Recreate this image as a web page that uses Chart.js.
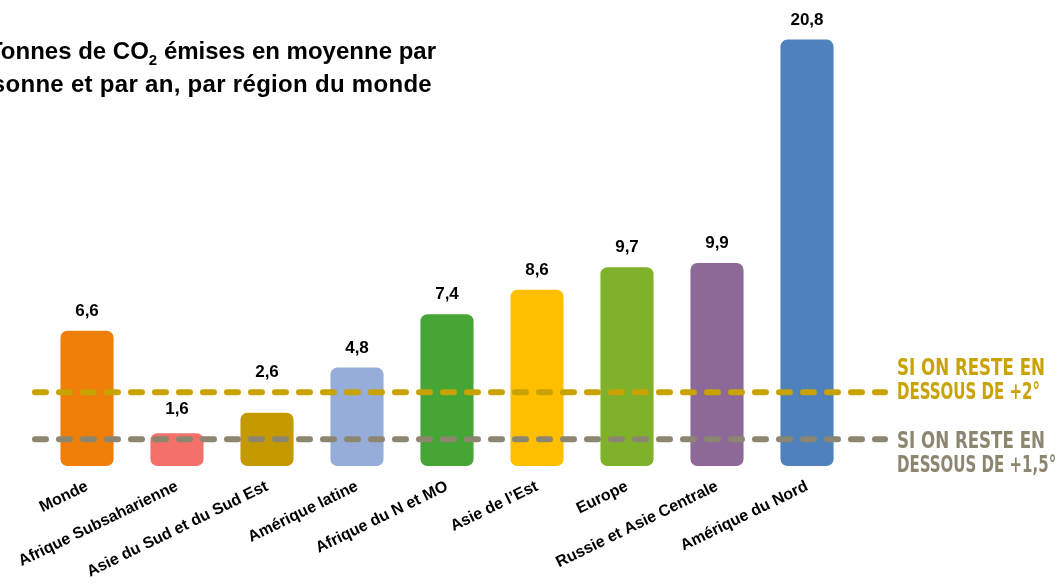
<!DOCTYPE html>
<html lang="fr">
<head>
<meta charset="utf-8">
<script src="https://cdn.jsdelivr.net/npm/chart.js@4.4.1/dist/chart.umd.min.js"></script>
<style>
  html, body { margin: 0; padding: 0; background: #fff; }
  #wrap { width: 1064px; height: 584px; position: relative; }
</style>
</head>
<body>
<div id="wrap"><canvas id="co2Chart"></canvas></div>
<script>
// Données
const regions = [
  'Monde',
  'Afrique Subsaharienne',
  'Asie du Sud et du Sud Est',
  'Amérique latine',
  'Afrique du N et MO',
  'Asie de l\u2019Est',
  'Europe',
  'Russie et Asie Centrale',
  'Amérique du Nord'
];
const emissions = [6.6, 1.6, 2.6, 4.8, 7.4, 8.6, 9.7, 9.9, 20.8];
const barColors = [
  '#F07F09', '#F4706A', '#C49A00', '#95ADD8', '#45A535',
  '#FDBF00', '#80B12B', '#8D6998', '#4F81BD'
];

// seuils (lignes pointillées)
const thresholdValues = [3.6, 1.3];
const thresholdLabels = [
  ['SI ON RESTE EN', 'DESSOUS DE +2°'],
  ['SI ON RESTE EN', 'DESSOUS DE +1,5°']
];
const thresholdColors = ['#C9A203', '#8C8670'];

// réglages de mise en page (pas des données)
const thresholdTextOffsets = [-17, 9];
const valueLabelLift = [0, 4, 21, 0, 0, 0, 0, 0, 0];

const titleLine1 = ['Tonnes de CO', '2', ' émises en moyenne par'];
const titleLine2 = 'personne et par an, par région du monde';

const fmt = v => v.toFixed(1).replace('.', ',');

const overlayPlugin = {
  id: 'overlay',
  afterDatasetsDraw(chart) {
    const ctx = chart.ctx;
    const y = chart.scales.y;

    // valeurs au-dessus des barres
    ctx.save();
    ctx.font = 'bold 17px "Liberation Sans", Arial, sans-serif';
    ctx.fillStyle = '#000';
    ctx.textAlign = 'center';
    ctx.textBaseline = 'alphabetic';
    chart.getDatasetMeta(0).data.forEach((bar, i) => {
      ctx.fillText(fmt(emissions[i]), bar.x, bar.y - 15 - valueLabelLift[i]);
    });
    ctx.restore();

    // lignes de seuil
    thresholdValues.forEach((val, i) => {
      const py = y.getPixelForValue(val);
      ctx.save();
      ctx.strokeStyle = thresholdColors[i];
      ctx.lineWidth = 6;
      ctx.lineCap = 'round';
      ctx.setLineDash([11, 13]);
      ctx.beginPath();
      ctx.moveTo(35, py);
      ctx.lineTo(885, py);
      ctx.stroke();
      ctx.restore();

      ctx.save();
      ctx.fillStyle = thresholdColors[i];
      ctx.font = 'bold 23px "Liberation Sans Narrow", "DejaVu Sans Condensed", sans-serif';
      ctx.textAlign = 'left';
      const sx2 = 143 / ctx.measureText('DESSOUS DE +2°').width;
      const sx1 = 148 / ctx.measureText('SI ON RESTE EN').width;
      thresholdLabels[i].forEach((line, k) => {
        ctx.save();
        ctx.translate(897, py + thresholdTextOffsets[i] + k * 24);
        ctx.scale(k === 0 ? sx1 : sx2, 1);
        ctx.fillText(line, 0, 0);
        ctx.restore();
      });
      ctx.restore();
    });

    // titre (coupé à gauche comme l'original)
    ctx.save();
    ctx.fillStyle = '#000';
    const big = 'bold 24px "Liberation Sans", Arial, sans-serif';
    const small = 'bold 15px "Liberation Sans", Arial, sans-serif';
    ctx.font = big;
    const w1 = ctx.measureText(titleLine1[0]).width;
    const w3 = ctx.measureText(titleLine1[2]).width;
    ctx.font = small;
    const w2 = ctx.measureText(titleLine1[1]).width;
    let x = 436 - (w1 + w2 + w3);
    ctx.font = big;
    ctx.fillText(titleLine1[0], x, 59);
    x += w1;
    ctx.font = small;
    ctx.fillText(titleLine1[1], x, 65);
    x += w2;
    ctx.font = big;
    ctx.fillText(titleLine1[2], x, 59);
    ctx.textAlign = 'right';
    ctx.letterSpacing = '0.3px';
    ctx.fillText(titleLine2, 432, 92);
    ctx.restore();
  }
};

new Chart(document.getElementById('co2Chart'), {
  type: 'bar',
  data: {
    labels: regions,
    datasets: [{
      data: emissions,
      backgroundColor: barColors,
      borderWidth: 0,
      borderRadius: 7,
      borderSkipped: false,
      barPercentage: 0.59,
      categoryPercentage: 1
    }]
  },
  options: {
    responsive: true,
    maintainAspectRatio: false,
    animation: false,
    layout: { padding: { left: 42, right: 212, top: 15, bottom: 0 } },
    scales: {
      y: { display: false, min: 0, max: 22 },
      x: {
        afterFit: s => { s.height = 118; },
        grid: { display: false },
        border: { display: false },
        ticks: {
          color: '#000',
          font: { family: '"Liberation Sans", Arial, sans-serif', size: 16, weight: 'bold' },
          minRotation: 26,
          maxRotation: 26,
          autoSkip: false,
          padding: 3
        }
      }
    },
    plugins: {
      legend: { display: false },
      tooltip: { enabled: false }
    }
  },
  plugins: [overlayPlugin]
});
</script>
</body>
</html>
